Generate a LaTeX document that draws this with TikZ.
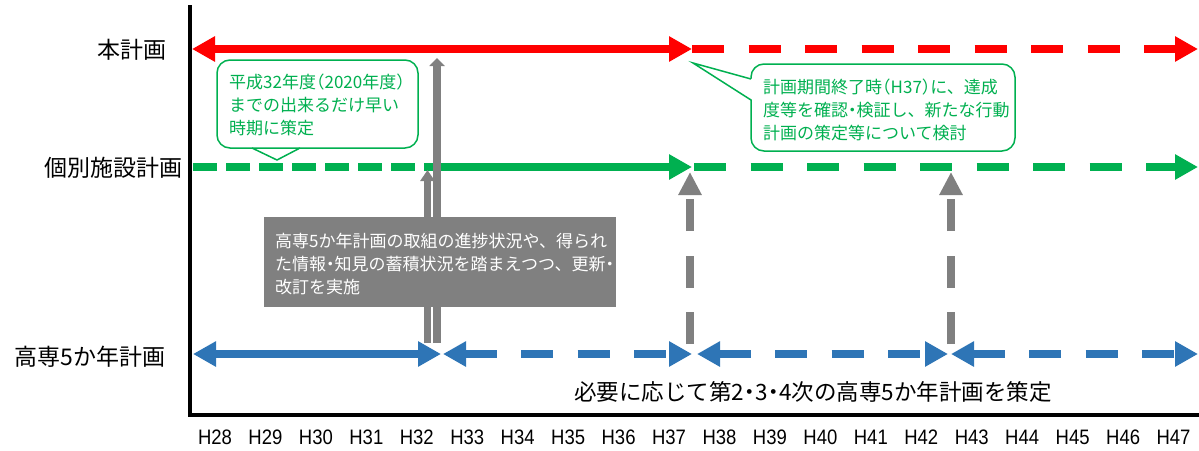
\documentclass[tikz,border=0pt]{standalone}
\usepackage{fontspec}
\usepackage{graphicx}
\setmainfont{Liberation Sans}
\newfontfamily\jp{Noto Sans CJK JP}
\usetikzlibrary{arrows.meta}
\definecolor{cred}{HTML}{FF0000}
\definecolor{cgreen}{HTML}{00B050}
\definecolor{cblue}{HTML}{2E75B6}
\definecolor{cgrey}{HTML}{808080}
\newcommand{\hdot}{\makebox[0.5em]{・}}
\newcommand{\hlp}{\makebox[0.5em][r]{（}}
\newcommand{\hrp}{\makebox[0.5em][l]{）}}
\begin{document}
\begin{tikzpicture}[x=1pt,y=-1pt,
  >={Triangle[length=23pt,width=24pt]},
  plan/.style={line width=8pt},
  longdash/.style={dash pattern=on 32pt off 24.5pt},
  shortdash/.style={dash pattern=on 23.5pt off 9.5pt},
  axisline/.style={line width=4pt,black},
  yearlbl/.style={font=\fontsize{18.5}{20}\selectfont,inner sep=0pt},
  rowlbl/.style={font=\jp\fontsize{23}{26}\selectfont,inner sep=0pt},
  greytxt/.style={font=\jp\fontsize{17}{22.8}\selectfont,inner sep=0pt,align=left,anchor=west},
  calloutbox/.style={draw=cgreen,line width=1.5pt,fill=white,rounded corners=13pt,inner sep=0pt},
  calloutptr/.style={draw=cgreen,line width=1.5pt},
  greyarrow/.style={cgrey},
]
\useasboundingbox (0,0) rectangle (1199,450);

% axes
\coordinate (axtop) at (190,5);
\coordinate (axorig) at (190,415);
\coordinate (axend) at (1199,415);
\draw[axisline] (axtop) -- (axorig) -- (axend);

% row labels
\node[rowlbl] (lbl1) at (132,50) {本計画};
\node[rowlbl] (lbl2) at (113.5,168) {個別施設計画};
\node[rowlbl] (lbl3) at (90,357) {高専5か年計画};

% year labels
\foreach \i [count=\k from 0] in {28,...,47}
  \node[yearlbl] (y\i) at (215+50.45*\k,437) {\scalebox{1}[1.13]{H\i}};

% red row
\coordinate (r0) at (192,49);
\coordinate (r1) at (692,49);
\coordinate (r2) at (1198,49);
\draw[plan,cred,<->] (r0) -- (r1);
\draw[plan,cred,longdash,->] (r1) -- (r2);

% green row
\coordinate (g0) at (193,167);
\coordinate (g1) at (433,167);
\coordinate (g2) at (692,167);
\coordinate (g3) at (694,167);
\coordinate (g4) at (1198,167);
\draw[plan,cgreen,shortdash] (g0) -- (g1);
\draw[plan,cgreen,->] (g1) -- (g2);
\draw[plan,cgreen,longdash,->] (g3) -- (g4);

% blue row
\coordinate (b0) at (193,354);
\coordinate (b1) at (441,354);
\coordinate (b2) at (443,354);
\coordinate (b3) at (692,354);
\coordinate (b4) at (697,354);
\coordinate (b5) at (948,354);
\coordinate (b6) at (951,354);
\coordinate (b7) at (1198,354);
\draw[plan,cblue,<->] (b0) -- (b1);
\draw[plan,cblue,longdash,<->] (b2) -- (b3);
\draw[plan,cblue,longdash,<->] (b4) -- (b5);
\draw[plan,cblue,longdash,<->] (b6) -- (b7);

% grey arrows
\coordinate (ga0) at (427.5,343);
\coordinate (ga1) at (427.5,170);
\coordinate (gb0) at (437,343);
\coordinate (gb1) at (437,58);
\coordinate (gc0) at (690,344);
\coordinate (gc1) at (690,172);
\coordinate (gd0) at (951,344);
\coordinate (gd1) at (951,172);
\draw[greyarrow,line width=6.5pt,-{Triangle[length=11pt,width=14pt]}] (ga0) -- (ga1);
\draw[greyarrow,line width=7.4pt,-{Triangle[length=8pt,width=15pt]}] (gb0) -- (gb1);
\draw[greyarrow,line width=8pt,longdash,-{Triangle[length=23pt,width=22pt]}] (gc0) -- (gc1);
\draw[greyarrow,line width=8pt,longdash,-{Triangle[length=23pt,width=22pt]}] (gd0) -- (gd1);

% grey box
\node[fill=cgrey,inner sep=0pt,minimum width=352pt,minimum height=90pt] (box) at (440,262) {};
\node[greytxt,text=white] (boxtext) at (275,264) {高専5か年計画の取組の進捗状況や、得られ\\た情報\hdot 知見の蓄積状況を踏まえつつ、更新\hdot\\改訂を実施};

% callout 1
\node[calloutbox,minimum width=201pt,minimum height=88pt] (c1) at (317.5,104) {};
\coordinate (c1a) at (252,148);
\coordinate (c1t) at (277,160);
\coordinate (c1b) at (300,148);
\fill[white] ([yshift=-1.5pt]c1a) -- (c1t) -- ([yshift=-1.5pt]c1b) -- cycle;
\draw[calloutptr,line join=miter] (c1a) -- (c1t) -- (c1b);
\node[greytxt,text=cgreen] (c1text) at (229,105) {平成32年度\hlp 2020年度\hrp\\までの出来るだけ早い\\時期に策定};

% callout 2
\node[calloutbox,minimum width=264pt,minimum height=87pt] (c2) at (883,107.5) {};
\coordinate (c2a) at (751,79);
\coordinate (c2t) at (693,63);
\coordinate (c2b) at (751,100);
\fill[white] ([xshift=1.5pt]c2a) -- (c2t) -- ([xshift=1.5pt]c2b) -- cycle;
\draw[calloutptr,line join=miter] (c2a) -- (c2t) -- (c2b);
\node[greytxt,text=cgreen] (c2text) at (763,110) {計画期間終了時\hlp H37\hrp に、達成\\度等を確認\hdot 検証し、新たな行動\\計画の策定等について検討};

% bottom note
\node[font=\jp\fontsize{22.5}{25}\selectfont,inner sep=0pt] (note) at (813,392) {必要に応じて第2\hdot 3\hdot 4次の高専5か年計画を策定};
\end{tikzpicture}
\end{document}
